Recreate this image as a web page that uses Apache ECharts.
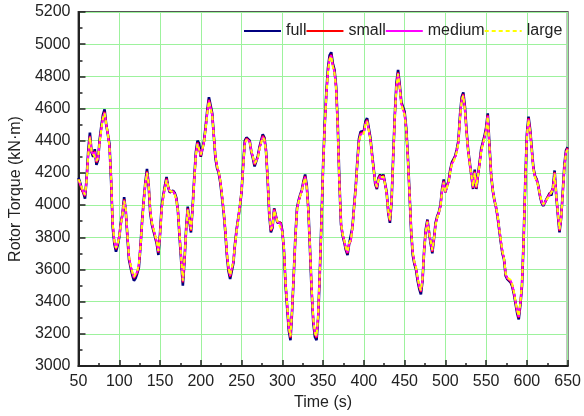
<!DOCTYPE html>
<html>
<head>
<meta charset="utf-8">
<script src="https://cdn.jsdelivr.net/npm/echarts@6/dist/echarts.min.js"></script>
<style>html,body{margin:0;padding:0;background:#fff;}#c{width:584px;height:416px;}</style>
</head>
<body>
<div id="c"></div>
<script>
var seriesNames = ['full', 'small', 'medium', 'large'];
var xTicks = [50, 100, 150, 200, 250, 300, 350, 400, 450, 500, 550, 600, 650];
var yTicks = [3000, 3200, 3400, 3600, 3800, 4000, 4200, 4400, 4600, 4800, 5000, 5200];

var time = [];
for (var t = 50; t <= 650; t += 2) time.push(t);

var full = [
4170,4140,4100,4077,4040,4170,4340,4450,4330,4300,
4347,4250,4280,4410,4490,4560,4595,4500,4440,4380,
4150,3860,3760,3710,3750,3800,3890,3945,4050,3960,
3800,3660,3610,3565,3530,3545,3575,3610,3740,3900,
4030,4140,4225,4130,3950,3880,3840,3800,3760,3690,
3820,3990,4060,4120,4175,4110,4080,4077,4090,4075,
4045,3960,3800,3650,3500,3650,3850,3990,3900,3830,
3990,4170,4330,4400,4385,4300,4310,4400,4490,4590,
4670,4665,4570,4430,4290,4230,4200,4140,4050,3960,
3840,3690,3590,3540,3550,3640,3760,3850,3920,3990,
4080,4250,4400,4420,4430,4400,4330,4290,4240,4240,
4305,4360,4400,4440,4420,4340,4160,3940,3830,3860,
3980,3970,3890,3890,3890,3840,3720,3500,3360,3220,
3160,3340,3560,3800,3980,4030,4065,4095,4150,4190,
4120,3970,3720,3460,3270,3180,3160,3300,3580,3900,
4240,4500,4700,4850,4930,4950,4880,4840,4740,4500,
4150,3880,3810,3770,3720,3690,3760,3770,3860,3990,
4110,4270,4410,4455,4465,4460,4520,4540,4540,4420,
4320,4230,4130,4100,4170,4190,4160,4190,4135,4080,
3950,3890,4020,4300,4560,4760,4840,4750,4640,4610,
4580,4480,4300,4080,3840,3690,3635,3600,3530,3480,
3445,3530,3720,3850,3910,3830,3760,3700,3790,3890,
3930,3955,4000,4100,4160,4080,4120,4150,4220,4265,
4285,4305,4345,4400,4560,4670,4700,4610,4460,4340,
4260,4180,4100,4220,4100,4185,4265,4350,4390,4430,
4480,4570,4380,4200,4095,4035,3990,3930,3850,3770,
3700,3660,3560,3540,3540,3520,3495,3450,3390,3330,
3290,3380,3500,3780,4140,4440,4550,4470,4350,4230,
4180,4160,4120,4060,4015,3995,4015,4035,4055,4075,
4060,4110,4215,4060,3940,3830,3920,4080,4250,4340,
4360];

var small = [
4160,4150,4095,4085,4055,4160,4325,4430,4335,4310,
4335,4265,4285,4400,4480,4550,4580,4505,4445,4370,
4160,3875,3770,3725,3755,3810,3885,3950,4035,3965,
3810,3670,3620,3575,3545,3555,3580,3620,3745,3895,
4025,4135,4210,4135,3960,3885,3845,3805,3765,3705,
3815,3980,4055,4115,4165,4115,4085,4080,4085,4070,
4040,3965,3810,3660,3520,3655,3845,3980,3905,3840,
3985,4160,4320,4390,4380,4305,4315,4395,4485,4580,
4655,4655,4565,4435,4300,4235,4205,4145,4055,3965,
3845,3700,3600,3555,3560,3645,3760,3850,3920,3995,
4085,4245,4390,4415,4420,4395,4335,4295,4250,4245,
4300,4355,4395,4430,4415,4335,4165,3950,3840,3865,
3975,3965,3895,3885,3890,3835,3725,3510,3370,3235,
3175,3345,3560,3795,3975,4025,4060,4090,4145,4180,
4115,3965,3725,3470,3285,3195,3175,3310,3580,3895,
4235,4490,4690,4835,4915,4935,4870,4830,4730,4490,
4145,3885,3815,3775,3725,3700,3760,3775,3860,3985,
4105,4265,4400,4445,4455,4455,4510,4530,4530,4415,
4315,4230,4135,4105,4165,4185,4160,4185,4135,4075,
3955,3900,4025,4295,4550,4745,4825,4740,4635,4600,
4570,4475,4295,4080,3845,3700,3640,3605,3540,3490,
3460,3535,3720,3845,3905,3830,3765,3710,3790,3885,
3925,3955,3995,4095,4150,4080,4115,4150,4215,4260,
4280,4300,4340,4395,4550,4660,4690,4600,4455,4340,
4255,4180,4105,4210,4105,4185,4260,4345,4385,4425,
4470,4560,4375,4200,4095,4035,3990,3930,3850,3775,
3705,3665,3565,3545,3540,3525,3500,3455,3395,3340,
3300,3385,3505,3780,4135,4430,4540,4465,4345,4230,
4180,4155,4120,4060,4020,4000,4015,4035,4055,4070,
4060,4105,4205,4060,3945,3840,3920,4075,4240,4335,
4355];

var medium = [
4155,4145,4105,4080,4060,4155,4320,4425,4330,4315,
4330,4270,4290,4395,4475,4545,4575,4500,4440,4365,
4165,3880,3775,3730,3760,3805,3880,3945,4030,3970,
3815,3675,3625,3580,3550,3560,3585,3625,3740,3890,
4020,4130,4205,4130,3965,3890,3850,3810,3770,3710,
3810,3975,4050,4110,4160,4110,4085,4080,4085,4070,
4035,3960,3815,3665,3525,3660,3840,3975,3905,3845,
3980,4155,4315,4385,4375,4310,4315,4390,4480,4575,
4650,4650,4560,4430,4305,4240,4205,4150,4060,3970,
3850,3705,3605,3560,3565,3650,3755,3845,3915,3995,
4085,4240,4385,4410,4415,4395,4335,4295,4255,4250,
4295,4350,4390,4425,4410,4335,4170,3955,3845,3865,
3970,3960,3895,3885,3885,3835,3730,3515,3375,3240,
3180,3350,3560,3790,3970,4025,4060,4090,4140,4175,
4110,3965,3730,3475,3290,3200,3180,3315,3580,3890,
4230,4485,4685,4830,4910,4930,4865,4825,4725,4485,
4145,3885,3815,3780,3730,3705,3760,3780,3860,3980,
4100,4260,4395,4440,4450,4450,4505,4525,4525,4410,
4310,4225,4140,4110,4160,4180,4160,4180,4135,4075,
3960,3905,4025,4290,4545,4740,4820,4735,4630,4595,
4565,4470,4290,4080,3850,3705,3645,3610,3545,3495,
3465,3540,3720,3840,3900,3830,3770,3715,3790,3880,
3925,3950,3995,4090,4145,4080,4115,4145,4210,4255,
4275,4300,4335,4390,4545,4655,4685,4595,4450,4335,
4255,4180,4110,4205,4110,4185,4255,4340,4380,4420,
4465,4555,4375,4200,4095,4035,3990,3935,3855,3780,
3710,3665,3570,3545,3545,3530,3505,3460,3400,3345,
3305,3390,3510,3780,4130,4425,4535,4460,4340,4225,
4175,4155,4120,4065,4020,4000,4015,4035,4050,4065,
4060,4100,4200,4060,3950,3845,3920,4070,4235,4330,
4350];

var large = [
4160,4140,4110,4085,4065,4150,4315,4420,4335,4320,
4325,4275,4295,4390,4470,4540,4570,4505,4445,4360,
4170,3885,3780,3735,3760,3800,3875,3940,4025,3975,
3820,3680,3630,3585,3555,3565,3590,3630,3735,3885,
4015,4125,4200,4135,3970,3895,3855,3815,3775,3715,
3805,3970,4045,4105,4155,4115,4090,4085,4080,4065,
4030,3955,3820,3670,3530,3665,3835,3970,3910,3850,
3975,4150,4310,4380,4370,4315,4320,4385,4475,4570,
4645,4645,4555,4425,4310,4245,4210,4155,4065,3975,
3855,3710,3610,3565,3570,3655,3750,3840,3910,4000,
4090,4235,4380,4405,4410,4390,4340,4300,4260,4255,
4290,4345,4385,4420,4405,4330,4175,3960,3850,3870,
3965,3955,3900,3880,3880,3830,3735,3520,3380,3245,
3185,3355,3565,3785,3965,4020,4055,4085,4135,4170,
4105,3960,3735,3480,3295,3205,3185,3320,3585,3885,
4225,4480,4680,4825,4905,4925,4860,4820,4720,4480,
4140,3890,3820,3785,3735,3710,3765,3785,3855,3975,
4095,4255,4390,4435,4445,4445,4500,4520,4520,4405,
4305,4220,4145,4115,4155,4175,4165,4175,4130,4070,
3965,3910,4030,4285,4540,4735,4815,4730,4625,4590,
4560,4465,4285,4085,3855,3710,3650,3615,3550,3500,
3470,3545,3715,3835,3895,3835,3775,3720,3785,3875,
3920,3950,3990,4085,4140,4085,4110,4140,4205,4250,
4270,4295,4330,4385,4540,4650,4680,4590,4445,4330,
4250,4185,4115,4200,4115,4180,4250,4335,4375,4415,
4460,4550,4370,4205,4100,4040,3995,3940,3860,3785,
3715,3670,3575,3550,3550,3535,3510,3465,3405,3350,
3310,3395,3515,3775,4125,4420,4530,4455,4335,4220,
4170,4150,4115,4070,4025,4005,4020,4030,4045,4060,
4055,4095,4195,4065,3955,3850,3925,4065,4230,4325,
4345];

function pairs(vals) {
  return vals.map(function (v, i) { return [time[i], v]; });
}

var FONT = 'Arial, "Liberation Sans", sans-serif';
var chart = echarts.init(document.getElementById('c'), null, {renderer: 'canvas'});
var colors = ['#000080', '#FF0000', '#FF00FF', '#FFFF00'];
var widths = [2.6, 2, 2, 2];
var dataSets = [full, small, medium, large];
var solidIcon = 'path://M0,0h37v2h-37z';
var dashIcon = 'path://M0,0h4v2h-4z M7,0h4v2h-4z M14,0h4v2h-4z M21,0h4v2h-4z M28,0h4v2h-4z M35,0h2v2h-2z';

chart.setOption({
  animation: false,
  textStyle: {fontFamily: FONT},
  grid: {left: 73, right: 14, top: 12, bottom: 50, show: true, borderColor: '#555', borderWidth: 2, backgroundColor: 'transparent'},
  legend: {
    left: 239, top: 18, itemWidth: 37, itemHeight: 2, itemGap: 0,
    itemStyle: {borderWidth: 0},
    textStyle: {fontSize: 16, color: '#222', fontFamily: FONT},
    data: seriesNames.map(function (n, i) {
      return {name: n, icon: i === 3 ? dashIcon : solidIcon};
    })
  },
  xAxis: {
    type: 'value', min: xTicks[0], max: xTicks[xTicks.length - 1], interval: 50,
    name: 'Time (s)', nameLocation: 'middle', nameGap: 29,
    nameTextStyle: {fontSize: 16, color: '#222', fontFamily: FONT},
    axisLine: {show: true, lineStyle: {color: '#222', width: 2}},
    axisTick: {show: true, inside: true, length: 6, lineStyle: {color: '#222', width: 1.5}},
    minorTick: {show: true, splitNumber: 2, length: 3, lineStyle: {color: '#222', width: 1.5}},
    axisLabel: {fontSize: 16, color: '#222', margin: 8, fontFamily: FONT, formatter: function (v) { return String(v); }},
    splitLine: {show: true, lineStyle: {color: '#9df29d', width: 1}}
  },
  yAxis: {
    type: 'value', min: yTicks[0], max: yTicks[yTicks.length - 1], interval: 200,
    name: 'Rotor Torque (kN·m)', nameLocation: 'middle', nameGap: 46,
    nameTextStyle: {fontSize: 16, color: '#222', fontFamily: FONT},
    axisLine: {show: true, lineStyle: {color: '#222', width: 2}},
    axisTick: {show: true, inside: true, length: 7, lineStyle: {color: '#222', width: 1.5}},
    minorTick: {show: true, splitNumber: 2, length: 4, lineStyle: {color: '#222', width: 1.5}},
    axisLabel: {fontSize: 16, color: '#222', margin: 8, fontFamily: FONT, formatter: function (v) { return String(v); }},
    splitLine: {show: true, lineStyle: {color: '#9df29d', width: 1}}
  },
  series: seriesNames.map(function (name, i) {
    return {
      name: name, type: 'line', symbol: 'none', showSymbol: false,
      data: pairs(dataSets[i]),
      itemStyle: {color: colors[i]},
      lineStyle: {color: colors[i], width: widths[i], type: i === 3 ? [4, 3] : 'solid'},
      z: 2 + i
    };
  })
});
</script>
</body>
</html>
